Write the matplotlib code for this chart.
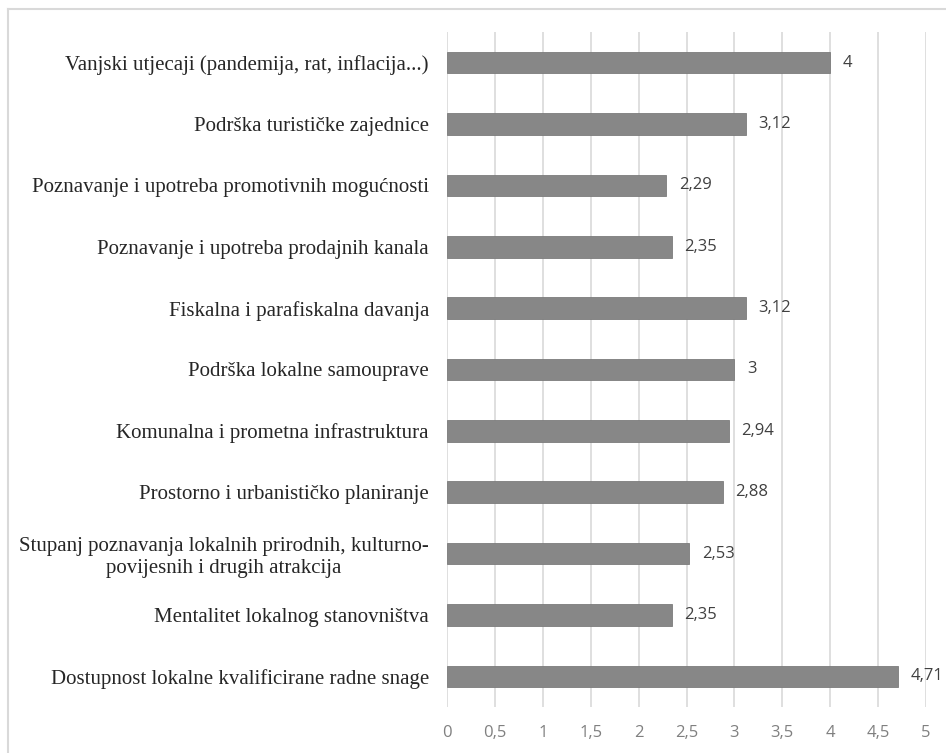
import matplotlib.pyplot as plt
from matplotlib.lines import Line2D

categories = [
    "Vanjski utjecaji (pandemija, rat, inflacija...)",
    "Podrška turističke zajednice",
    "Poznavanje i upotreba promotivnih mogućnosti",
    "Poznavanje i upotreba prodajnih kanala",
    "Fiskalna i parafiskalna davanja",
    "Podrška lokalne samouprave",
    "Komunalna i prometna infrastruktura",
    "Prostorno i urbanističko planiranje",
    "Stupanj poznavanja lokalnih prirodnih, kulturno-\npovijesnih i drugih atrakcija",
    "Mentalitet lokalnog stanovništva",
    "Dostupnost lokalne kvalificirane radne snage",
]
values = [4, 3.12, 2.29, 2.35, 3.12, 3, 2.94, 2.88, 2.53, 2.35, 4.71]
xticks = [0, 0.5, 1, 1.5, 2, 2.5, 3, 3.5, 4, 4.5, 5]


def comma(v):
    s = "{:g}".format(v)
    return s.replace(".", ",")


fig = plt.figure(figsize=(9.46, 7.53), dpi=100)
ax = fig.add_axes([0.4725, 0.0611, 0.5064, 0.8964])

ypos = list(range(len(categories)))
ax.barh(ypos, values, height=0.35, color="#878787", edgecolor="#7c7c7c",
        linewidth=0.6, zorder=3)

for y, v in zip(ypos, values):
    ax.text(v + 0.13, y, comma(v), va="center", ha="left",
            fontsize=12, color="#404040", family="Open Sans")

ax.set_xlim(0, 5)
ax.set_ylim(len(categories) - 0.5, -0.5)
ax.set_xticks(xticks)
ax.set_xticklabels([comma(t) for t in xticks], family="Open Sans",
                   fontsize=12, color="#808080")
ax.set_yticks(ypos)
ax.set_yticklabels(categories, family="Liberation Serif", fontsize=15,
                   color="#262626", multialignment="center", linespacing=1.2)
ax.tick_params(axis="both", length=0)
ax.tick_params(axis="y", pad=13)
ax.tick_params(axis="x", pad=13)
ax.grid(axis="x", color="#d9d9d9", linewidth=1.2, zorder=0)
for s in ax.spines.values():
    s.set_visible(False)

# outer frame: only the left and top edges are visible in the original
x0, y1 = 7.5 / 946, 1 - 8.5 / 753
fig.add_artist(Line2D([x0, x0], [0, y1], transform=fig.transFigure,
                      color="#d9d9d9", linewidth=1.5))
fig.add_artist(Line2D([x0, 1], [y1, y1], transform=fig.transFigure,
                      color="#d9d9d9", linewidth=1.5))

fig.savefig("out.png", dpi=100)
